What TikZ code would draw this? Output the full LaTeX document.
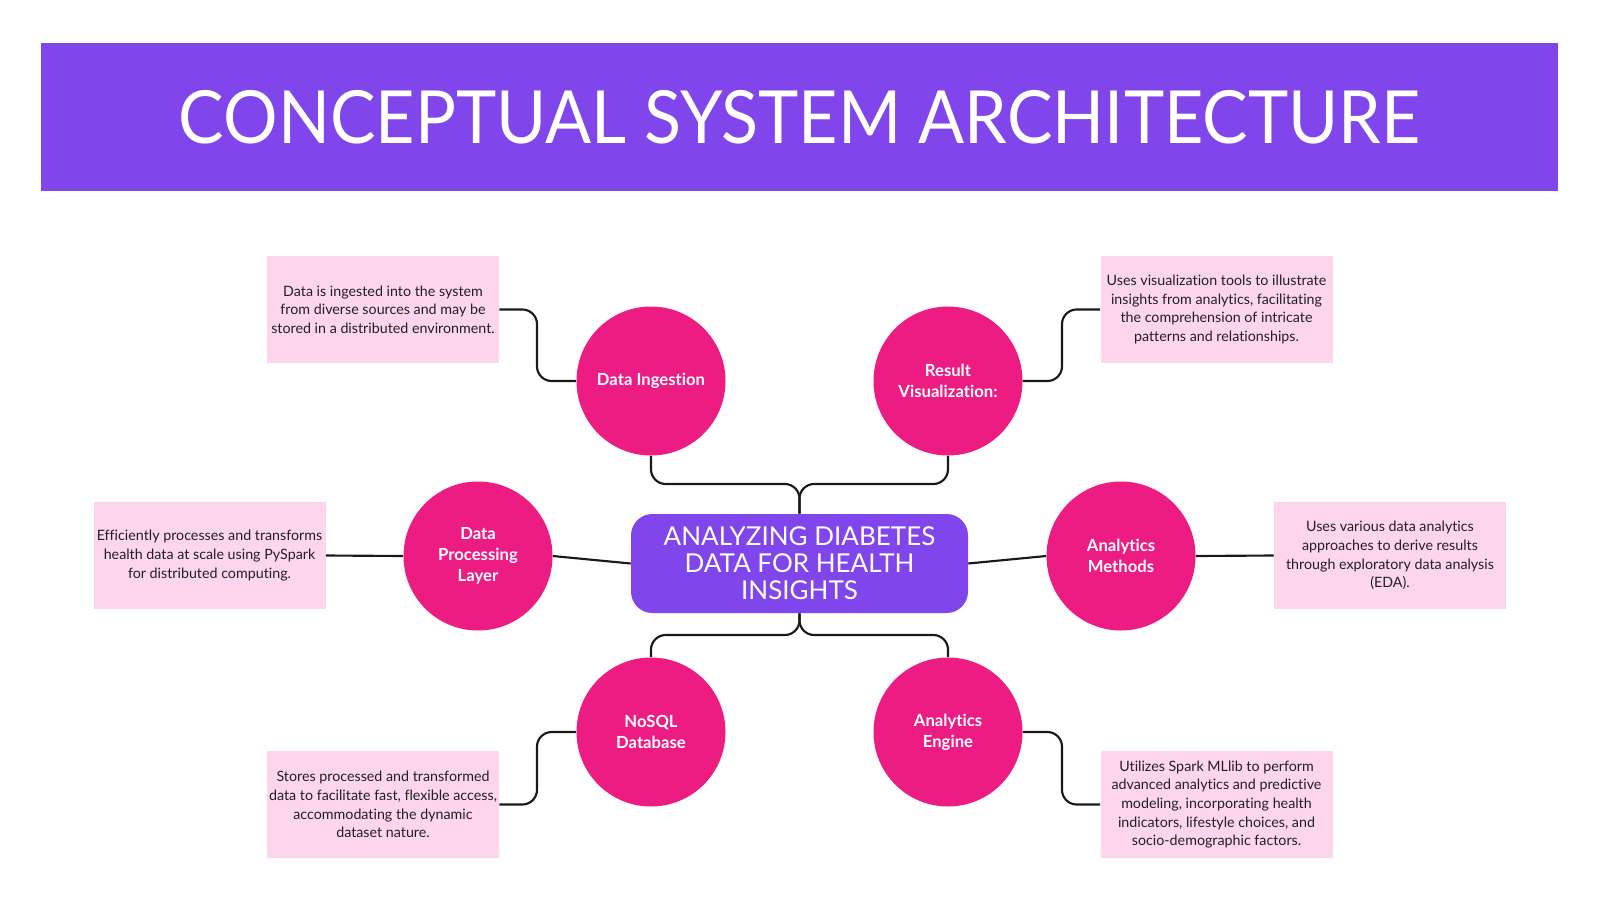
\documentclass[tikz,border=0pt]{standalone}
\usepackage{fontspec}
\setmainfont{Lato}[Ligatures=NoCommon]
\newfontfamily\titlefont[FakeStretch=0.93]{Lato}
\newfontfamily\hubfont[FakeStretch=1.0]{Lato}
\definecolor{archPurple}{RGB}{128,69,235}
\definecolor{archPink}{RGB}{236,28,131}
\definecolor{archNote}{RGB}{253,214,237}
\definecolor{archInk}{RGB}{32,30,42}
\tikzset{archpanel/.style={
  x=0.75pt, y=-0.75pt,
  banner/.style={fill=archPurple, draw=none, minimum width=1137.75pt, minimum height=111pt, text=white, font=\titlefont\fontsize{55}{60}\selectfont},
  hub/.style={rounded corners=16pt, fill=archPurple, draw=none, minimum width=252.75pt, minimum height=74.25pt, align=center, text=white, font=\hubfont\fontsize{19.5}{20.25}\selectfont},
  comp/.style={circle, fill=archPink, draw=none, minimum size=111.75pt, inner sep=0pt, align=center, text=white, font=\bfseries\fontsize{12.5}{15.75}\selectfont},
  note/.style={fill=archNote, draw=none, minimum width=174pt, minimum height=80.25pt, inner sep=0pt, align=center, text=archInk, font=\fontsize{10.7}{14}\selectfont},
  link/.style={line width=1.6pt, black!90, rounded corners=11pt},
}}

\begin{document}
\begin{tikzpicture}[archpanel]
\useasboundingbox (0,0) rectangle (1600,900);

% ---- title ----
\node[banner] (banner) at (799.5,117) {CONCEPTUAL SYSTEM ARCHITECTURE};

% ---- centre ----
\node[hub] (hub) at (799.5,563.5) {ANALYZING DIABETES\\DATA FOR HEALTH\\INSIGHTS};

% ---- six components ----
\node[comp] (ing)  at (651,381)  {Data Ingestion};
\node[comp] (vis)  at (948,381)  {Result\\Visualization:};
\node[comp] (proc) at (478,556)  {Data\\Processing\\Layer};
\node[comp] (meth) at (1121,556) {Analytics\\Methods};
\node[comp] (db)   at (651,732)  {NoSQL\\Database};
\node[comp] (eng)  at (948,732)  {Analytics\\Engine};

% ---- descriptions ----
\node[note] (descIng)  at (383,309.5)    {Data is ingested into the system\\from diverse sources and may be\\stored in a distributed environment.};
\node[note] (descVis)  at (1216.5,309.5) {Uses visualization tools to illustrate\\insights from analytics, facilitating\\the comprehension of intricate\\patterns and relationships.};
\node[note] (descProc) at (209.5,555.5)  {Efficiently processes and transforms\\health data at scale using PySpark\\for distributed computing.};
\node[note] (descMeth) at (1390,555.5)   {Uses various data analytics\\approaches to derive results\\through exploratory data analysis\\(EDA).};
\node[note] (descDb)   at (383,804.5)    {Stores processed and transformed\\data to facilitate fast, flexible access,\\accommodating the dynamic\\dataset nature.};
\node[note] (descEng)  at (1216.5,804.5) {Utilizes Spark MLlib to perform\\advanced analytics and predictive\\modeling, incorporating health\\indicators, lifestyle choices, and\\socio-demographic factors.};

% ---- bend points ----
\coordinate (topJoin) at (799.5,484);
\coordinate (botJoin) at (799.5,635);
\coordinate (ingBend) at (537,381);
\coordinate (visBend) at (1062,309.5);
\coordinate (dbBend)  at (537,732);
\coordinate (engBend) at (1062,804.5);

% ---- trunk into the centre ----
\draw[link] (ing.south) |- (topJoin) -- (hub.north);
\draw[link] (vis.south) |- (topJoin) -- (hub.north);
\draw[link] (hub.south) -- (botJoin) -| (db.north);
\draw[link] (hub.south) -- (botJoin) -| (eng.north);
\draw[link] (proc.east) -- (hub.west);
\draw[link] (hub.east) -- (meth.west);

% ---- components to descriptions ----
\draw[link] (descIng.east) -| (ingBend) -- (ing.west);
\draw[link] (vis.east) -| (visBend) -- (descVis.west);
\draw[link] (descProc.east) -- (proc.west);
\draw[link] (meth.east) -- (descMeth.west);
\draw[link] (descDb.east) -| (dbBend) -- (db.west);
\draw[link] (eng.east) -| (engBend) -- (descEng.west);
\end{tikzpicture}
\end{document}
